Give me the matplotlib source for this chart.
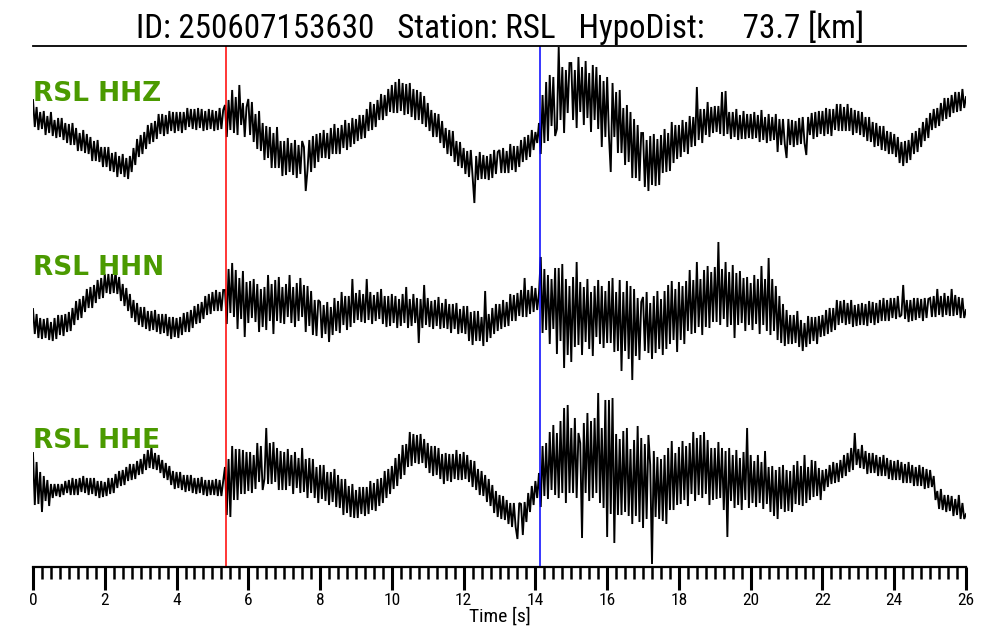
import numpy as np
import matplotlib
matplotlib.use("Agg")
import matplotlib.pyplot as plt
from matplotlib import font_manager as fm
from matplotlib.ticker import MultipleLocator

# ---------------- data ----------------
EVENT_ID = "250607153630"
STATION = "RSL"
HYPO_DIST_KM = 73.7
CHANNELS = ["HHZ", "HHN", "HHE"]
SAMPLE_INTERVAL = 0.05          # s
P_PICK = 5.38                   # s (red line)
S_PICK = 14.12                  # s (blue line)
X_MAX = 26

# amplitudes (relative units, one row = one second, 20 samples)
hhz = [
    25, -2, 18, -5, 13, -4, 14, -10, 9, -8, 13, -11, 5, -13, 7, -12, 7, -15, 2, -18,
    1, -20, 2, -20, -3, -26, -8, -26, -5, -28, -9, -29, -12, -36, -16, -36, -15, -37, -22, -42,
    -22, -42, -22, -46, -28, -47, -27, -52, -31, -49, -29, -52, -33, -54, -31, -47, -23, -40, -14, -32,
    -10, -29, -7, -24, 0, -19, 2, -17, 4, -14, 11, -9, 11, -11, 10, -9, 14, -6, 13, -8,
    13, -6, 13, -8, 13, -5, 17, -2, 16, -4, 16, -5, 17, -3, 16, -6, 14, -5, 16, -4,
    15, -6, 14, -5, 17, -4, 15, 20, -12, 25, -5, 35, -8, 28, -10, 40, 0, 22, -12, 18,
    26, -10, 23, -17, 11, -24, 14, -26, 2, -35, -1, -33, -2, -43, -8, -43, -2, -43, -16, -51,
    -16, -50, -13, -47, -18, -50, -15, -53, -20, -49, -16, -22, -66, -45, -15, -47, -11, -43, -9, -37,
    -8, -33, -5, -33, -8, -34, -3, -29, 1, -29, -3, -29, 0, -23, 5, -25, 2, -22, 7, -19,
    6, -16, 10, -14, 10, -13, 16, -6, 23, -5, 21, -2, 25, 5, 31, 5, 30, 9, 36, 13,
    40, 12, 43, 12, 46, 14, 42, 10, 41, 11, 42, 8, 36, 5, 35, 5, 33, 1, 29, -2,
    22, -6, 15, -12, 12, -12, 11, -18, 4, -23, -3, -29, -5, -31, -6, -37, -16, -41, -17, -43,
    -23, -49, -26, -52, -25, -51, -78, -31, -55, -27, -54, -30, -54, -31, -55, -29, -53, -25, -49, -27,
    -25, -48, -23, -48, -26, -48, -19, -45, -21, -47, -21, -42, -15, -37, -12, -35, -10, -32, -5, -25,
    -7, -18, 2, -29, 30, -18, 43, -16, 50, -1, 48, -11, -4, 78, 5, 58, -8, 55, 12, 62,
    62, 5, 55, -3, 68, 13, 58, 0, 64, 7, 52, -7, 60, 5, 58, -4, 50, -22, 44, -12,
    48, -11, -47, 42, -12, 33, -28, 35, -28, 17, -40, 20, -37, 13, -53, 6, -53, 0, -56, -8,
    -8, -62, -15, -66, -11, -60, -9, -61, -14, -60, -10, -48, -4, -47, -8, -46, 3, -38, 0, -34,
    0, -32, 5, -27, 3, -29, 9, -22, 8, -21, 38, -15, 16, -18, 16, -10, 23, -12, 18, -8,
    19, -7, 19, -9, 33, -11, 34, -9, 13, -14, 13, -12, 16, -15, 10, -14, 14, -14, 11, -13,
    11, -14, 13, -13, 10, -17, 15, -15, 8, -18, 11, -16, 8, -15, 11, -27, 6, -20, 6, -19,
    -33, 6, -20, 5, -22, 4, -20, 7, -19, 8, -18, -30, 8, -10, 12, -14, 13, -12, 14, -9,
    14, -11, 17, -9, 16, -11, 16, -5, 21, -6, 21, -6, 18, -6, 21, -6, 17, -10, 15, -8,
    14, -10, 13, -12, 8, -16, 8, -17, 3, -22, 2, -21, -1, -25, -1, -26, -6, -29, -7, -29,
    -9, -32, -12, -38, -17, -41, -16, -38, -15, -35, -8, -29, -6, -27, -3, -22, 3, -16, 7, -13,
    12, -5, 16, -3, 17, -1, 22, 4, 27, 6, 27, 8, 30, 12, 33, 13, 33, 14, 36, 17,
    28,
]

hhn = [
    1, -24, -4, -28, -8, -29, -9, -28, -8, -30, -12, -31, -8, -29, -5, -25, -5, -26, -4, -22,
    -2, -21, 2, -15, 9, -10, 11, -8, 14, -2, 21, 2, 23, 2, 25, 7, 30, 11, 32, 12,
    36, 17, 36, 16, 36, 17, 39, 16, 33, 9, 26, 4, 22, -1, 16, -8, 10, -12, 7, -15,
    3, -17, 3, -19, -1, -21, -1, -20, 0, -22, -4, -24, -4, -23, -4, -26, -7, -29, -7, -27,
    -8, -28, -7, -25, -3, -22, -2, -22, 0, -18, 4, -14, 6, -13, 8, -9, 14, -5, 16, -4,
    18, -1, 20, -1, 18, -1, 20, 20, -14, 41, -3, 47, -7, 40, -19, 32, -9, 39, -27, 28,
    -13, 29, -8, 31, -12, 26, -22, 21, -17, 23, -20, 35, -11, 26, -24, 30, -11, 33, -13, 23,
    -14, 26, -7, 35, -13, 23, -17, 27, -11, 32, -7, 25, -22, 24, -16, 19, -25, 10, -26, 10,
    8, -28, 5, -24, 8, -32, 3, -25, 12, -21, 9, -23, 18, -15, 14, -20, 14, -17, 31, -13,
    17, -10, 20, -12, 16, -13, 31, -10, 18, -14, 15, -11, 18, -9, 21, -14, 14, -17, 14, -16,
    16, -13, 14, -18, 11, -16, 16, -13, 23, -18, 11, -16, 16, -13, 12, -33, 11, -18, 25, -15,
    12, -17, 9, -19, 10, -16, 13, -19, 7, -18, 11, -19, 6, -23, 6, -19, 7, -24, 1, -23,
    4, -24, 4, -31, -2, -35, -1, -31, -1, -31, -7, -36, 19, -32, -4, -28, 2, -24, 6, -21,
    6, -19, 10, -17, 8, -16, 16, -11, 15, -11, 17, -6, 20, -7, 32, -7, 20, -4, 24, -2,
    22, 0, 17, 53, -23, 41, -20, 35, -34, 31, -19, 42, -44, 42, -31, 46, -58, 31, -45, 24,
    -52, 33, -37, 48, -35, 28, -45, 23, -32, 31, -39, 18, -46, 24, -27, 30, -34, 24, -38, 19,
    -33, 29, -33, 32, -42, 18, -41, 30, -61, 18, -41, 29, -49, 24, -70, 21, -46, 12, -50, 8,
    13, -41, 18, -43, 7, -49, 14, -43, 19, -39, 11, -45, 19, -39, 25, -34, 29, -30, 21, -42,
    28, -30, 24, -34, 29, -21, 40, -24, 30, -23, 48, -17, 31, -25, 40, -17, 44, -18, 38, -12,
    43, -12, 68, -15, 41, -9, 48, -17, 38, -15, 45, -28, 37, -15, 39, -13, 32, -21, 33, -15,
    27, -20, 35, -14, 31, -24, 44, -15, 31, -21, 52, -25, 31, -21, 24, -30, 14, -33, 6, -36,
    0, -34, -5, -34, -5, -33, -1, -37, -10, -41, -13, -37, -6, -34, -7, -31, -7, -34, -6, -27,
    -5, -26, 0, -24, 2, -22, 2, -20, 10, -15, 9, -13, 10, -15, 7, -14, 10, -17, 5, -16,
    6, -15, 7, -15, 6, -16, 9, -13, 8, -15, 7, -13, 10, -11, 12, -11, 10, -11, 12, -8,
    12, -9, 14, -7, -5, 25, -9, 10, -12, 10, -11, 12, -10, 12, -8, 11, -11, 12, -8, 11,
    12, -7, 14, -7, 21, -5, 14, -7, 17, -5, 14, -6, 21, -6, 15, -5, 13, -8, 12, -8,
    0,
]

hhe = [
    27, -25, 18, -24, 8, -32, 4, -21, 0, -26, -4, -18, -4, -16, -4, -17, -4, -15, -1, -13,
    0, -15, 2, -15, 1, -15, 2, -12, 4, -13, 2, -15, 2, -14, 2, -16, -1, -18, -1, -17,
    -2, -16, 2, -14, 2, -13, 6, -8, 9, -6, 10, -5, 13, -1, 16, 0, 16, 1, 19, 5,
    21, 6, 26, 10, 30, 12, 33, 11, 27, 10, 25, 7, 20, 2, 17, 0, 14, -5, 9, -9,
    8, -8, 8, -10, 5, -12, 5, -11, 5, -13, 2, -14, 2, -13, 3, -15, 0, -16, 0, -15,
    0, -15, 1, -16, 0, -16, -1, 13, -35, 21, -37, 34, -20, 31, -20, 31, -14, 30, -14, 28,
    -11, 28, -13, 25, -9, 37, -2, 34, -10, 1, 52, -4, 37, -4, 38, -2, 32, -10, 29, -10,
    28, -10, 31, -6, 25, -14, 28, -8, 22, -13, 32, -12, 21, -18, 22, -13, 21, -18, 13, -23,
    15, -19, 15, -21, 8, -25, 8, -22, 11, -27, 5, -28, 1, -35, 1, -33, -6, -37, -4, -38,
    -10, -38, -7, -34, -7, -36, -7, -34, -1, -30, -3, -31, 1, -26, 2, -23, 9, -18, 11, -14,
    14, -9, 22, -6, 26, 1, 35, 5, 36, 13, 48, 14, 46, 17, 45, 16, 46, 17, 41, 12,
    37, 7, 34, 4, 34, 5, 32, 1, 26, -4, 27, -1, 26, -2, 26, 1, 30, 0, 26, 0,
    28, 1, 25, -2, 20, -7, 19, -10, 11, -15, 9, -16, 5, -22, 1, -26, -5, -33, -11, -37,
    -15, -39, -16, -40, -20, -44, -23, -47, -23, -47, -59, -23, -24, -55, -22, -42, -13, -32, -6, -25,
    -1, -18, 7, -27, 34, -16, 37, -19, 48, -10, 55, -15, 47, -18, 59, -13, 72, -23, 75, -13,
    52, -13, 62, -18, 47, 37, -58, 57, -13, 67, -21, 59, -18, 62, -13, 87, -23, 52, -28, 80,
    -57, 80, -34, 82, -63, 46, -35, 41, -35, 49, -32, 52, -36, 31, -44, 40, -36, 54, -42, 42,
    -48, 36, -39, 45, 15, -84, 29, -37, 23, -39, 21, -41, 25, -44, 32, -30, 39, -30, 27, -25,
    33, -24, 39, -20, 34, -26, 37, -14, 48, -21, 42, -15, 45, -18, 48, -14, 40, -25, 32, -20,
    32, -19, 38, -18, 32, -30, 29, -57, 32, -21, 25, -28, 30, -25, 22, -30, 28, -20, 52, -28,
    25, -23, 19, -27, 25, -23, 18, -29, 29, -24, 13, -32, 14, -36, 10, -39, 13, -29, 15, -32,
    10, -31, 9, -32, 15, -24, 19, -25, 14, -26, 25, -23, 13, -20, 20, -17, 19, -16, 12, -20,
    10, -11, 11, -7, 15, -4, 18, -3, 17, -2, 20, 2, 25, 4, 27, 8, 32, 10, 47, 15,
    31, 12, 35, 11, 29, 6, 27, 7, 27, 7, 25, 4, 23, 4, 25, 4, 22, 1, 20, 0,
    19, 0, 20, 0, 18, -3, 16, -3, 18, -3, 15, -6, 13, -6, 15, -6, 13, -9, 11, -8,
    10, -7, 4, -20, -11, -29, -9, -30, -15, -32, -15, -31, -16, -36, -19, -35, -15, -39, -23, -39,
    -34,
]

# ---------------- layout / style ----------------
W, H = 1000, 640
AX_LEFT, AX_RIGHT, AX_TOP, AX_BOTTOM = 33, 966, 46, 567   # pixels
TRACE_CENTERS = [-125, -310, -480]                         # vertical slots
LABEL_BASELINES = [-101, -275, -448]
GREEN = "#4b9a00"

# condensed font if available
ttf = fm.fontManager.ttflist
names = {f.name for f in ttf}
cond = None
for cand in ["DejaVu Sans Condensed", "Liberation Sans Narrow", "Roboto Condensed",
             "Open Sans Condensed"]:
    if cand in names:
        cond = dict(family=cand)
        break
if cond is None:
    if any(f.name == "DejaVu Sans" and "condensed" in str(f.stretch) for f in ttf):
        cond = dict(family="DejaVu Sans", stretch="condensed")
    else:
        cond = dict(family="DejaVu Sans")

fig = plt.figure(figsize=(W / 100, H / 100), dpi=100)
ax = fig.add_axes([AX_LEFT / W, 1 - AX_BOTTOM / H,
                   (AX_RIGHT - AX_LEFT) / W, (AX_BOTTOM - AX_TOP) / H])

for center, data, ch, lb in zip(TRACE_CENTERS, [hhz, hhn, hhe], CHANNELS, LABEL_BASELINES):
    v = np.asarray(data, dtype=float)
    t = np.arange(len(v)) * SAMPLE_INTERVAL
    ax.plot(t, center + v, color="black", lw=1.35, solid_joinstyle="miter")
    ax.text(0.0, lb, f"{STATION} {ch}", color=GREEN, fontsize=19,
            fontweight="bold", family="DejaVu Sans", ha="left", va="baseline")

ax.axvline(P_PICK, color="red", lw=1.1)
ax.axvline(S_PICK, color="blue", lw=1.1)

ax.set_xlim(0, X_MAX)
ax.set_ylim(-AX_BOTTOM, -AX_TOP)
ax.yaxis.set_visible(False)
ax.spines["left"].set_visible(False)
ax.spines["right"].set_visible(False)
ax.spines["top"].set_linewidth(1.3)
ax.spines["bottom"].set_linewidth(1.6)
ax.xaxis.set_major_locator(MultipleLocator(2))
ax.xaxis.set_minor_locator(MultipleLocator(0.25))
ax.tick_params(axis="x", which="major", length=16.5, width=2.2, direction="out", pad=2,
               labelsize=12.5)
ax.tick_params(axis="x", which="minor", length=8.6, width=1.8, direction="out")
for lab in ax.get_xticklabels():
    lab.set_fontproperties(fm.FontProperties(size=12.5, **cond))
ax.set_xlabel("Time [s]", labelpad=0, fontproperties=fm.FontProperties(size=14, **cond))

title = f"ID: {EVENT_ID}   Station: {STATION}   HypoDist: {HYPO_DIST_KM:8.1f} [km]"
tt = fig.text(0.5, 1 - 38 / H, title, ha="center", va="baseline",
              fontproperties=fm.FontProperties(size=20, **cond))
fig.canvas.draw()
bb = tt.get_window_extent()
if bb.width > 0:
    tt.set_fontsize(20 * 725 / bb.width)

fig.savefig("out.png", dpi=100, facecolor="white")
